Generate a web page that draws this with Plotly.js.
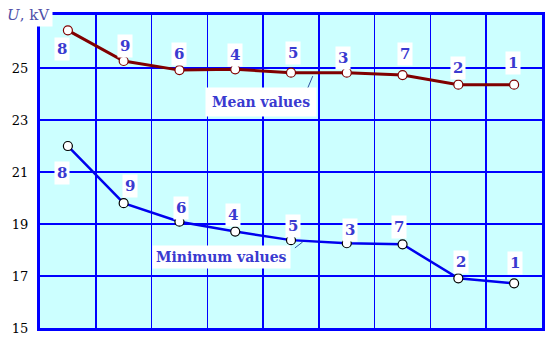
<!DOCTYPE html>
<html>
<head>
<meta charset="utf-8">
<script src="https://cdn.plot.ly/plotly-3.0.1.min.js"></script>
<style>
  html, body { margin: 0; padding: 0; background: #fff; }
  #grafik { width: 550px; height: 340px; }
</style>
</head>
<body>
<div id="grafik"></div>
<script>
// data (x = column position, 1..9)
var posisi = [1, 2, 3, 4, 5, 6, 7, 8, 9];
var nomor = ["8", "9", "6", "4", "5", "3", "7", "2", "1"];
var nilaiRata = [26.45, 25.27, 24.92, 24.95, 24.82, 24.82, 24.73, 24.36, 24.36];
var nilaiMin = [22.0, 19.8, 19.09, 18.71, 18.38, 18.26, 18.22, 16.91, 16.72];
var yTicks = [15, 17, 19, 21, 23, 25];

// label offsets in pixels [dx, dy]
var geserRata = [[-6, 19], [1, -15], [0, -16], [0, -14], [2, -20], [-4, -15], [2, -21], [0, -17], [-1, -22]];
var geserMin = [[-6, 27], [6, -17], [2, -14], [-2, -17], [2, -14], [3, -13], [-4, -17], [3, -16], [1, -20]];

var serif = "DejaVu Serif";
var warnaLabel = "#3a3ad0";

var garisRata = {
  x: posisi,
  y: nilaiRata,
  type: "scatter",
  mode: "lines+markers",
  line: { color: "#800000", width: 3 },
  marker: { size: 9, color: "#ffffff", line: { color: "#800000", width: 1.2 } },
  hoverinfo: "none",
  cliponaxis: false,
};

var garisMin = {
  x: posisi,
  y: nilaiMin,
  type: "scatter",
  mode: "lines+markers",
  line: { color: "#0000ee", width: 2.5 },
  marker: { size: 9, color: "#ffffff", line: { color: "#000000", width: 1.2 } },
  hoverinfo: "none",
  cliponaxis: false,
};

function labelTitik(ys, geser) {
  return posisi.map((p, i) => ({
    x: p,
    y: ys[i],
    xref: "x",
    yref: "y",
    text: "<b>" + nomor[i] + "</b>",
    showarrow: false,
    xshift: geser[i][0],
    yshift: -geser[i][1],
    font: { family: serif, size: 15, color: warnaLabel },
    bgcolor: "#ffffff",
    borderpad: 2,
  }));
}

var anotasi = [
  ...labelTitik(nilaiRata, geserRata),
  ...labelTitik(nilaiMin, geserMin),
  {
    x: 4.46, y: 23.69, xref: "x", yref: "y",
    text: "<b>Mean values</b>", showarrow: false,
    font: { family: serif, size: 14, color: warnaLabel },
    bgcolor: "#ffffff", borderpad: 6,
  },
  {
    x: 3.76, y: 17.73, xref: "x", yref: "y",
    text: "<b>Minimum values</b>", showarrow: false,
    font: { family: serif, size: 14, color: warnaLabel },
    bgcolor: "#ffffff", borderpad: 3,
  },
  {
    x: 0, y: 1, xref: "paper", yref: "paper",
    xanchor: "center", yanchor: "middle", xshift: -12,
    text: "<i>U</i>, kV", showarrow: false,
    font: { family: serif, size: 15, color: "#5050a8" },
    bgcolor: "#ffffff", borderpad: 2,
  },
];

var tampilan = {
  width: 550,
  height: 340,
  margin: { l: 40, r: 8, t: 15, b: 12 },
  paper_bgcolor: "#ffffff",
  plot_bgcolor: "#ccffff",
  showlegend: false,
  font: { family: serif },
  xaxis: {
    range: [0.5, 9.5],
    tickvals: [1.5, 2.5, 3.5, 4.5, 5.5, 6.5, 7.5, 8.5],
    showticklabels: false,
    ticks: "",
    showgrid: true,
    gridcolor: "#0000ff",
    gridwidth: 1.5,
    zeroline: false,
    showline: true,
    mirror: true,
    linecolor: "#0000ff",
    linewidth: 3,
  },
  yaxis: {
    range: [15, 27.04],
    tickvals: yTicks,
    ticktext: yTicks.map(String),
    ticks: "outside",
    ticklen: 6,
    tickcolor: "rgba(0,0,0,0)",
    tickfont: { family: serif, size: 13, color: "#000000" },
    showgrid: true,
    gridcolor: "#0000ff",
    gridwidth: 1.5,
    zeroline: false,
    showline: true,
    mirror: true,
    linecolor: "#0000ff",
    linewidth: 3,
  },
  shapes: [
    { type: "line", xref: "x", yref: "y", x0: 5.39, y0: 24.69, x1: 5.30, y1: 24.23, line: { color: "#3050a0", width: 1 } },
    { type: "line", xref: "x", yref: "y", x0: 5.21, y0: 18.31, x1: 5.07, y1: 18.08, line: { color: "#3050a0", width: 1 } },
  ],
  annotations: anotasi,
};

Plotly.newPlot("grafik", [garisMin, garisRata], tampilan, { staticPlot: true });
</script>
</body>
</html>
